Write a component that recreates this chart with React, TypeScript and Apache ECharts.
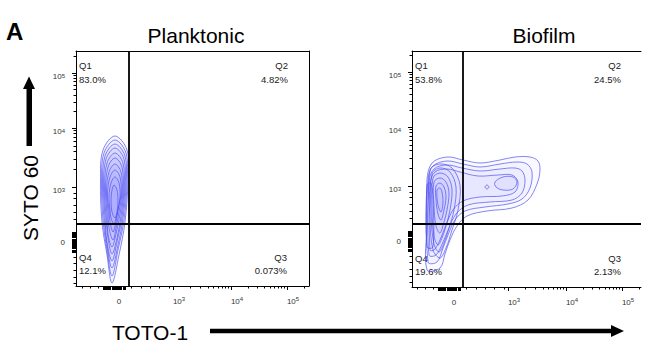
import React, { useEffect, useRef } from "react";
import * as echarts from "echarts";

// ---- axis data (display units; 0 = zero, majors = 10^3, 10^4, 10^5) ----
const X_MAJOR = [0, 54, 112, 168];
const Y_MAJOR = [0, 55, 114, 169];
const MAJOR_EXP = ["", "3", "4", "5"];
const X_LINEAR_MINOR = [-37, -29, -21, 12, 22, 31, 40, 50];
const Y_LINEAR_MINOR = [-41, -35, -28, -21, -15, 23, 30, 37, 44, 49];
const X_ZERO_CLUSTER = [-16, 6];
const Y_ZERO_CLUSTER = [-10, 10];

// ---- panels ----
const TITLES = ["Planktonic", "Biofilm"];
const QUADRANTS = ["Q1", "Q2", "Q3", "Q4"];
const PLANKTONIC_PCT = ["83.0%", "4.82%", "0.073%", "12.1%"];
const BIOFILM_PCT = ["53.8%", "24.5%", "2.13%", "19.6%"];
const PLANKTONIC_GATE = [10, 18];
const BIOFILM_GATE = [9, 17];

// ---- contour rings (display units) ----
const PLANKTONIC_CONTOURS: number[][][] = [
  [[-4, 106], [8, 92], [9, 62], [6, 20], [0, -13], [-7, -41], [-12, -13], [-17, 20], [-18.5, 62], [-16, 92]],
  [[-4, 102], [7, 89], [8, 60], [5, 22], [-1, -8], [-7, -34], [-12, -8], [-16, 22], [-17.5, 60], [-15, 89]],
  [[-4, 98], [6, 86], [7, 58], [4, 24], [-1, -3], [-7, -26], [-12, -3], [-15, 24], [-16.5, 58], [-14, 86]],
  [[-4, 94], [5, 83], [6, 56], [3, 25], [-2, 0], [-7, -19], [-12, 0], [-14, 25], [-15.5, 56], [-13, 83]],
  [[-4, 89], [4, 79], [5, 54], [2, 26], [-2, 4], [-7, -12], [-11, 4], [-13, 26], [-14.5, 54], [-12, 79]],
  [[-4, 84], [3, 75], [4, 52], [1, 28], [-3, 8], [-7, -5], [-11, 8], [-12, 28], [-13.5, 52], [-11, 75]],
  [[-4, 78], [2, 70], [3, 50], [0, 30], [-3, 14], [-6, 2], [-10, 14], [-11, 30], [-12.5, 50], [-10, 70]],
  [[-4, 72], [1, 65], [2, 48], [-1, 32], [-3, 20], [-6, 10], [-9, 20], [-10, 32], [-11.5, 48], [-9, 65]],
  [[-4, 65], [0, 59], [1, 45], [-1, 32], [-3, 24], [-5, 18], [-8, 24], [-9, 32], [-10, 45], [-8, 59]],
  [[-5, 57], [-2, 52], [-1, 42], [-2, 30], [-4, 24], [-7, 30], [-8, 42], [-7, 52]],
];

const BIOFILM_CONTOURS: number[][][] = [
  [[-27, -29], [-27, 18], [-27, 61], [-22, 78], [-7, 84], [9, 81], [26, 78], [46, 81], [61, 84], [76, 84], [84, 80], [86, 71], [83, 57], [74, 41], [58, 33], [33, 30], [13, 25], [3, 15], [-4, 1], [-9, -13], [-14, -27]],
  [[-26, -21], [-26, 61], [-21, 75], [-7, 80], [9, 77], [26, 74], [46, 77], [63, 79], [73, 77], [78, 69], [76, 53], [68, 42], [54, 37], [31, 34], [11, 30], [1, 21], [-6, 6], [-11, -7], [-17, -21]],
  [[-25, -14], [-25, 59], [-20, 72], [-7, 76], [8, 73], [26, 70], [46, 72], [61, 73], [68, 70], [71, 61], [68, 48], [58, 41], [36, 39], [14, 36], [2, 27], [-5, 13], [-11, -1], [-18, -14]],
  [[-24, -9], [-24, 57], [-19, 69], [-7, 72], [6, 69], [24, 65], [44, 66], [58, 66], [64, 59], [61, 49], [48, 45], [26, 44], [9, 40], [-1, 31], [-8, 16], [-14, 1], [-20, -9]],
  [[41, 59], [49, 64], [59, 64], [63, 59], [59, 52], [49, 51], [42, 54]],
  [[31, 54], [33, 56], [35, 54], [33, 52]],
  [[-24, 71], [-14, 77], [-2, 73], [6, 56], [4, 31], [-2, 11], [-8, -7], [-14, -17], [-21, -9], [-24, 21]],
  [[-22, 67], [-14, 73], [-4, 69], [2, 54], [0, 31], [-5, 13], [-10, -2], [-15, -11], [-20, -3], [-23, 26]],
  [[-21, 63], [-14, 68], [-6, 64], [-2, 51], [-4, 31], [-8, 15], [-12, 3], [-16, -4], [-20, 5], [-22, 31]],
  [[-20, 59], [-14, 63], [-8, 59], [-5, 48], [-7, 31], [-10, 19], [-14, 8], [-18, 15], [-20, 36]],
  [[-18, 55], [-14, 58], [-10, 54], [-8, 44], [-10, 31], [-13, 21], [-16, 27], [-18, 41]],
  [[-17, 51], [-14, 53], [-12, 49], [-11, 39], [-13, 29], [-16, 36]],
  [[-27, 56], [-23, 58], [-21, 41], [-21, -6], [-27, -6]],
];

const FONT = "Liberation Sans";

function logMinors(majors: number[], max: number) {
  const out: number[] = [];
  for (let d = 1; d < majors.length; d++) {
    const a = majors[d];
    const b = d + 1 < majors.length ? majors[d + 1] : majors[d] + (majors[d] - majors[d - 1]);
    for (let k = 2; k <= 9; k++) {
      const v = a + Math.log10(k) * (b - a);
      if (v <= max) out.push(v);
    }
  }
  return out;
}

function cluster(r: number[]) {
  const out: number[] = [];
  for (let v = r[0]; v <= r[1] + 1e-6; v += 1.1) out.push(v);
  return out;
}

function nearestIndex(arr: number[], v: number) {
  let best = 0;
  for (let i = 1; i < arr.length; i++) if (Math.abs(arr[i] - v) < Math.abs(arr[best] - v)) best = i;
  return best;
}

function makeAxes(isX: boolean, g: number, min: number, max: number, frame: boolean) {
  const majors = isX ? X_MAJOR : Y_MAJOR;
  const lin = isX ? X_LINEAR_MINOR : Y_LINEAR_MINOR;
  const cl = cluster(isX ? X_ZERO_CLUSTER : Y_ZERO_CLUSTER);
  const minors = [...logMinors(majors, max), ...lin];
  const base: any = { type: "value", gridIndex: g, min, max, splitLine: { show: false } };
  const line = { show: true, onZero: false, lineStyle: { color: "#000", width: 1 } };
  const rich = isX
    ? {
        n: { fontSize: 8, fontFamily: FONT, color: "#333", lineHeight: 10, padding: [0, 0, 0, 12] },
        s: { fontSize: 6, fontFamily: FONT, color: "#333", lineHeight: 2, verticalAlign: "top" },
        z: { fontSize: 8, fontFamily: FONT, color: "#333", lineHeight: 10 },
      }
    : {
        n: { fontSize: 8, fontFamily: FONT, color: "#333", lineHeight: 6 },
        s: { fontSize: 6, fontFamily: FONT, color: "#333", lineHeight: 1, verticalAlign: "top" },
        z: { fontSize: 8, fontFamily: FONT, color: "#333", lineHeight: 1 },
      };
  const axes: any[] = [
    {
      ...base,
      position: isX ? "bottom" : "left",
      axisLine: line,
      axisTick: { show: true, inside: false, length: 4, customValues: [...majors, ...cl], lineStyle: { color: "#000", width: 1 } },
      axisLabel: {
        show: true,
        customValues: majors,
        margin: isX ? 10 : 11,
        align: isX ? "center" : "right",
        verticalAlign: "top",
        formatter: (v: number) => {
          const i = nearestIndex(majors, v);
          return i === 0 ? "{z|0}" : `{n|10}{s|${MAJOR_EXP[i]}}`;
        },
        rich,
      },
    },
    {
      ...base,
      position: isX ? "bottom" : "left",
      axisLine: { show: false, onZero: false },
      axisTick: { show: true, inside: false, length: 2.5, customValues: minors, lineStyle: { color: "#000", width: 1 } },
      axisLabel: { show: false },
    },
  ];
  if (frame)
    axes.push({
      ...base,
      position: isX ? "top" : "right",
      axisLine: line,
      axisTick: { show: false },
      axisLabel: { show: false },
    });
  return axes;
}

function contourSeries(rings: number[][][], xi: number, yi: number, fillAlpha: number) {
  return {
    type: "custom",
    coordinateSystem: "cartesian2d",
    xAxisIndex: xi,
    yAxisIndex: yi,
    clip: true,
    silent: true,
    data: rings.map((r) => r[0]),
    renderItem: (params: any, api: any) => {
      const ring = rings[params.dataIndex];
      const pts = ring.map((p) => api.coord(p));
      return {
        type: "polygon",
        shape: { points: pts, smooth: 0.35 },
        style: { fill: `rgba(80,80,255,${fillAlpha})`, stroke: "rgba(75,75,240,0.8)", lineWidth: 0.85 },
      };
    },
  };
}

function gateSeries(gate: number[], xi: number, yi: number) {
  return {
    type: "line",
    xAxisIndex: xi,
    yAxisIndex: yi,
    data: [],
    markLine: {
      silent: true,
      symbol: ["none", "none"],
      label: { show: false },
      lineStyle: { color: "#000", width: 1.8, type: "solid" },
      data: [{ xAxis: gate[0] }, { yAxis: gate[1] }],
    },
  };
}

function quadText(x: number, y: number, text: string, align: string) {
  return {
    type: "text",
    x,
    y,
    style: { text, fill: "#222", font: `9.5px "${FONT}"`, textAlign: align, textVerticalAlign: "middle" },
  };
}

function buildOption() {
  const graphics: any[] = [
    { type: "text", x: 6, y: 31, style: { text: "A", fill: "#000", font: `bold 24px "${FONT}"`, textAlign: "left", textVerticalAlign: "middle" } },
    { type: "text", x: 196, y: 35, style: { text: TITLES[0], fill: "#000", font: `21px "${FONT}"`, textAlign: "center", textVerticalAlign: "middle" } },
    { type: "text", x: 544, y: 35, style: { text: TITLES[1], fill: "#000", font: `21px "${FONT}"`, textAlign: "center", textVerticalAlign: "middle" } },
    { type: "text", x: 30, y: 198, rotation: Math.PI / 2, style: { text: "SYTO 60", fill: "#000", font: `21px "${FONT}"`, textAlign: "center", textVerticalAlign: "middle" } },
    { type: "text", x: 150, y: 332, style: { text: "TOTO-1", fill: "#000", font: `21px "${FONT}"`, textAlign: "center", textVerticalAlign: "middle" } },
    { type: "rect", shape: { x: 26.5, y: 87, width: 5.5, height: 59 }, style: { fill: "#000" } },
    { type: "polygon", shape: { points: [[23, 89], [35, 89], [29, 76.5]] }, style: { fill: "#000" } },
    { type: "rect", shape: { x: 210, y: 328.8, width: 403, height: 4.5 }, style: { fill: "#000" } },
    { type: "polygon", shape: { points: [[611, 325], [611, 337], [624, 331]] }, style: { fill: "#000" } },
    // planktonic quadrant labels
    quadText(79, 65.8, QUADRANTS[0], "left"),
    quadText(79, 79.7, PLANKTONIC_PCT[0], "left"),
    quadText(288, 65.8, QUADRANTS[1], "right"),
    quadText(288, 79.7, PLANKTONIC_PCT[1], "right"),
    quadText(287, 257, QUADRANTS[2], "right"),
    quadText(287, 270.5, PLANKTONIC_PCT[2], "right"),
    quadText(79, 257, QUADRANTS[3], "left"),
    quadText(79, 270.5, PLANKTONIC_PCT[3], "left"),
    // biofilm quadrant labels
    quadText(415, 65.8, QUADRANTS[0], "left"),
    quadText(415, 79.7, BIOFILM_PCT[0], "left"),
    quadText(621, 65.8, QUADRANTS[1], "right"),
    quadText(621, 79.7, BIOFILM_PCT[1], "right"),
    quadText(621, 258, QUADRANTS[2], "right"),
    quadText(621, 271.5, BIOFILM_PCT[2], "right"),
    quadText(415, 258, QUADRANTS[3], "left"),
    quadText(415, 271.5, BIOFILM_PCT[3], "left"),
  ];

  const xAxis = [...makeAxes(true, 0, -43, 190, true), ...makeAxes(true, 1, -42, 187, true)];
  const yAxis = [...makeAxes(false, 0, -44, 191, true), ...makeAxes(false, 1, -46, 190, false)];

  return {
    animation: false,
    backgroundColor: "#fff",
    grid: [
      { left: 76, top: 51, width: 233, height: 235, outerBoundsMode: "none", containLabel: false },
      { left: 412, top: 51, width: 229, height: 236, outerBoundsMode: "none", containLabel: false },
    ],
    xAxis,
    yAxis,
    series: [
      contourSeries(PLANKTONIC_CONTOURS, 0, 0, 0.06),
      gateSeries(PLANKTONIC_GATE, 0, 0),
      contourSeries(BIOFILM_CONTOURS, 3, 3, 0.035),
      gateSeries(BIOFILM_GATE, 3, 3),
    ],
    graphic: graphics,
  };
}

export default function App() {
  const ref = useRef<HTMLDivElement>(null);
  useEffect(() => {
    const chart = echarts.init(ref.current!, null, { renderer: "svg" });
    chart.setOption(buildOption() as any);
    return () => chart.dispose();
  }, []);
  return (
    <div
      ref={ref}
      style={{ position: "fixed", left: 0, top: 0, width: 672, height: 356, background: "#fff" }}
    />
  );
}
